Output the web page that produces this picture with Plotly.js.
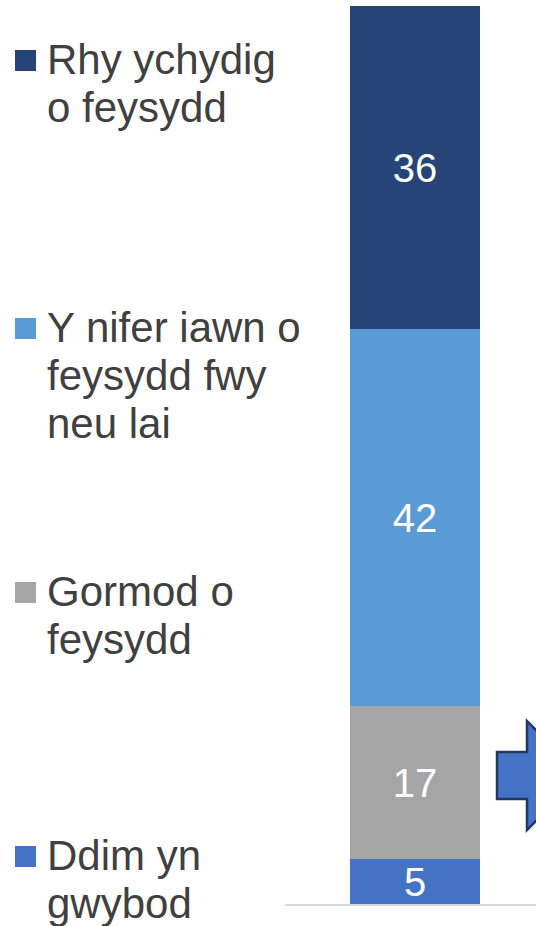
<!DOCTYPE html>
<html>
<head>
<meta charset="utf-8">
<script src="https://cdn.plot.ly/plotly-3.0.1.min.js"></script>
<style>
  html, body { margin: 0; padding: 0; background: #ffffff; }
  #chart { width: 536px; height: 926px; }
</style>
</head>
<body>
<div id="chart"></div>
<script>
// ---- Data ----
const categories = ['Cyfanswm'];
const seriesNames = [
  'Ddim yn\ngwybod',
  'Gormod o\nfeysydd',
  'Y nifer iawn o\nfeysydd fwy\nneu lai',
  'Rhy ychydig\no feysydd'
];
const seriesValues = [5, 17, 42, 36];
const seriesColors = ['#4472C4', '#A5A5A5', '#5B9BD5', '#264478'];

// ---- Layout geometry (pixels) ----
const W = 536, H = 926;
const M = { l: 285, r: 0, t: 6, b: 22 };
const plotW = W - M.l - M.r, plotH = H - M.t - M.b;
const px2x = px => (px - M.l) / plotW;
const py2y = py => (H - M.b - py) / plotH;

// first-line baseline (px) for each legend entry, same order as series
const legendBaselines = [869, 605, 341, 73];
const lineGap = 48;
const fontSize = 42;
const FONT = 'Liberation Sans, Arial, sans-serif';

const traces = seriesNames.map((name, i) => ({
  type: 'bar',
  name: name,
  x: categories,
  y: [seriesValues[i]],
  width: 1,
  marker: { color: seriesColors[i], line: { width: 0 } },
  texttemplate: '%{y}',
  textposition: 'inside',
  insidetextanchor: 'middle',
  textangle: 0,
  constraintext: 'none',
  textfont: { color: '#ffffff', size: 40, family: FONT },
  hoverinfo: 'skip',
  showlegend: false
}));

const annotations = [];
const shapes = [];
seriesNames.forEach((name, i) => {
  const lines = name.split('\n');
  lines.forEach((ln, j) => {
    const base = legendBaselines[i] + j * lineGap;
    annotations.push({
      xref: 'paper', yref: 'paper',
      x: px2x(45), y: py2y(base + 1 - 0.3465 * fontSize),
      xanchor: 'left', yanchor: 'middle',
      text: ln, showarrow: false,
      font: { family: FONT, size: fontSize, color: '#404040' }
    });
  });
  const b = legendBaselines[i];
  shapes.push({
    type: 'rect', xref: 'paper', yref: 'paper',
    x0: px2x(15), x1: px2x(36),
    y0: py2y(b - 2), y1: py2y(b - 23),
    fillcolor: seriesColors[i], line: { width: 0 }
  });
});

// decorative block arrow at right edge
const arrowPts = [[497,752],[527,752],[527,721],[582,775.5],[527,830],[527,799],[497,799]];
shapes.push({
  type: 'path', xref: 'paper', yref: 'paper',
  path: 'M' + arrowPts.map(p => px2x(p[0]) + ',' + py2y(p[1])).join(' L') + ' Z',
  fillcolor: '#4472C4',
  line: { color: '#1F3864', width: 2.5 }
});

const layout = {
  width: W, height: H,
  margin: M,
  barmode: 'stack',
  paper_bgcolor: '#ffffff',
  plot_bgcolor: '#ffffff',
  showlegend: false,
  xaxis: {
    type: 'category',
    range: [-1, plotW / 130 - 1],
    showticklabels: false,
    showgrid: false, zeroline: false,
    showline: true, linecolor: '#D9D9D9', linewidth: 2,
    ticks: ''
  },
  yaxis: {
    range: [0, 100],
    visible: false, showgrid: false, zeroline: false
  },
  annotations: annotations,
  shapes: shapes
};

Plotly.newPlot('chart', traces, layout, { displayModeBar: false, staticPlot: true });
</script>
</body>
</html>
